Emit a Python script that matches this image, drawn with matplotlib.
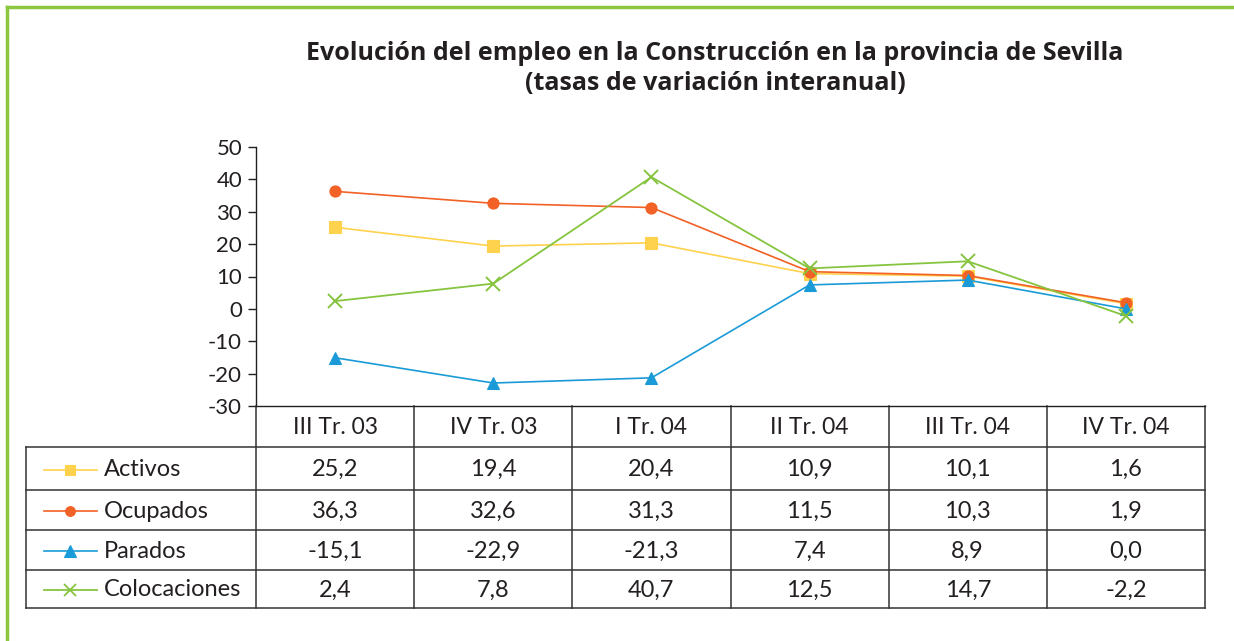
import matplotlib

matplotlib.use("Agg")
import matplotlib.pyplot as plt
from matplotlib.lines import Line2D

plt.rcParams["font.family"] = ["Lato", "DejaVu Sans"]
plt.rcParams["axes.unicode_minus"] = False

# ── data ─────────────────────────────────────────────────────────────────────
CATEGORIES = ["III Tr. 03", "IV Tr. 03", "I Tr. 04", "II Tr. 04", "III Tr. 04", "IV Tr. 04"]
ACTIVOS = [25.2, 19.4, 20.4, 10.9, 10.1, 1.6]
OCUPADOS = [36.3, 32.6, 31.3, 11.5, 10.3, 1.9]
PARADOS = [-15.1, -22.9, -21.3, 7.4, 8.9, 0.0]
COLOCACIONES = [2.4, 7.8, 40.7, 12.5, 14.7, -2.2]
Y_TICKS = [50, 40, 30, 20, 10, 0, -10, -20, -30]

SERIES = [
    ("Activos", ACTIVOS, "#FFD24D", "s", 8, 1.2),
    ("Ocupados", OCUPADOS, "#F26125", "o", 8, 1.2),
    ("Parados", PARADOS, "#1A9BD7", "^", 9, 1.2),
    ("Colocaciones", COLOCACIONES, "#86C440", "x", 10, 1.3),
]
BORDER_GREEN = "#8DC63F"
INK = "#231F20"

W, H = 1234, 641
fig = plt.figure(figsize=(W / 100, H / 100), dpi=100)

# plot area in pixels: x 256..1205, y 147..406
ax = fig.add_axes([256 / W, 1 - 406 / H, 949 / W, 259 / H])
n = len(CATEGORIES)
xs = list(range(n))
for name, vals, color, marker, ms, lw in SERIES:
    ax.plot(xs, vals, color=color, marker=marker, markersize=ms, linewidth=lw,
            markeredgewidth=1.4 if marker == "x" else 0.8, markeredgecolor=color)

ax.set_xlim(-0.5, n - 0.5)
ax.set_ylim(-30, 50)
ax.set_yticks(Y_TICKS)
ax.set_yticklabels([str(t) for t in Y_TICKS], fontsize=16, color=INK)
ax.set_xticks([])
ax.tick_params(axis="y", direction="out", length=6, width=1, color=INK, pad=4)
for side in ["top", "right"]:
    ax.spines[side].set_visible(False)
for side in ["left", "bottom"]:
    ax.spines[side].set_color(INK)
    ax.spines[side].set_linewidth(1)

# ── data table under the plot (axes coords) ─────────────────────────────────
def ypx(py):
    return (406 - py) / 259.0


def xpx(px):
    return (px - 256) / 949.0


row_edges = [406, 447, 490, 530, 570, 608]
tkw = dict(transform=ax.transAxes, clip_on=False)
line_kw = dict(color="#333333", linewidth=1.1, transform=ax.transAxes, clip_on=False)

# grid lines
for py in row_edges[1:]:
    ax.add_line(Line2D([xpx(26), 1.0], [ypx(py), ypx(py)], **line_kw))
for i in range(n + 1):
    ax.add_line(Line2D([i / n, i / n], [0, ypx(608)], **line_kw))
ax.add_line(Line2D([xpx(26), xpx(26)], [ypx(447), ypx(608)], **line_kw))

# header
for i, cat in enumerate(CATEGORIES):
    ax.text((i + 0.5) / n, ypx(427), cat, ha="center", va="center",
            fontsize=16.5, color=INK, **tkw)

# rows: legend key + values
for r, (name, vals, color, marker, ms, lw) in enumerate(SERIES):
    yc = ypx((row_edges[r + 1] + row_edges[r + 2]) / 2 + 1)
    ax.add_line(Line2D([xpx(44), xpx(97)], [yc, yc], color=color, linewidth=lw,
                       transform=ax.transAxes, clip_on=False))
    ax.add_line(Line2D([xpx(70)], [yc], color=color, marker=marker, markersize=ms - 1,
                       markeredgewidth=1.3 if marker == "x" else 0.8,
                       markeredgecolor=color, linestyle="none",
                       transform=ax.transAxes, clip_on=False))
    ax.text(xpx(104), yc, name, ha="left", va="center", fontsize=17, color=INK, **tkw)
    for i, v in enumerate(vals):
        ax.text((i + 0.5) / n, yc, f"{v:.1f}".replace(".", ","), ha="center",
                va="center", fontsize=17, color=INK, **tkw)

# ── title ───────────────────────────────────────────────────────────────────
title_kw = dict(ha="center", va="center", fontsize=18, fontweight="bold", color=INK,
                family=["Open Sans", "DejaVu Sans"])
fig.text(715 / W, 1 - 54 / H,
         "Evolución del empleo en la Construcción en la provincia de Sevilla", **title_kw)
fig.text(715 / W, 1 - 83 / H, "(tasas de variación interanual)", **title_kw)

# ── green frame (left and top) ──────────────────────────────────────────────
fig.add_artist(Line2D([7 / W, 7 / W], [0, 1 - 7 / H], color=BORDER_GREEN, linewidth=2.5,
                      transform=fig.transFigure))
fig.add_artist(Line2D([7 / W, 1], [1 - 7 / H, 1 - 7 / H], color=BORDER_GREEN, linewidth=2.5,
                      transform=fig.transFigure))

fig.savefig("out.png", dpi=100)
